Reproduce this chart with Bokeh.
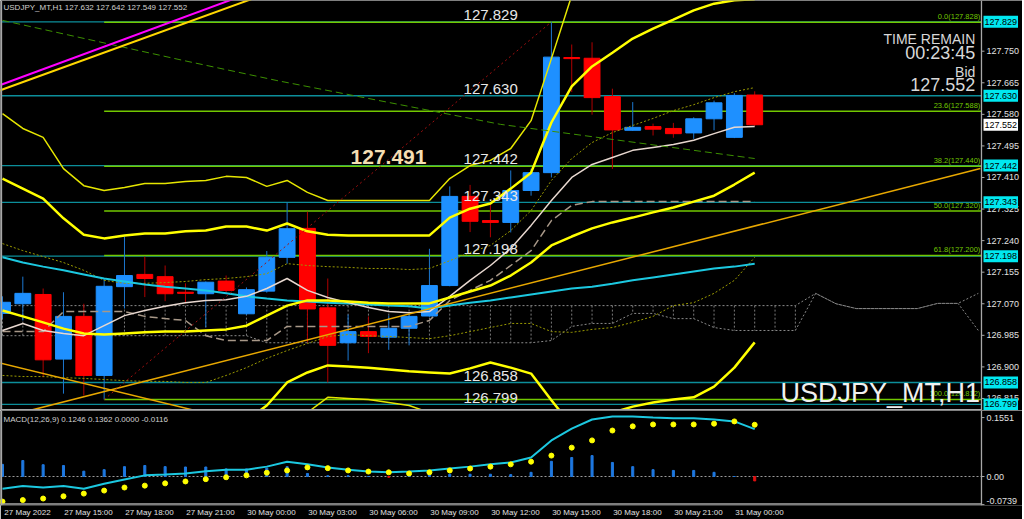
from bokeh.plotting import figure
from bokeh.layouts import column
from bokeh.models import Range1d, FixedTicker, Label
from bokeh.core.properties import value
from bokeh.embed import file_html
from bokeh.resources import INLINE

NaN = float("nan")

# ---------------- data ----------------
time_ticks = [0, 3, 6, 9, 12, 15, 18, 21, 24, 27, 30, 33, 36]
time_labels = ["27 May 2022", "27 May 15:00", "27 May 18:00", "27 May 21:00", "30 May 00:00",
               "30 May 03:00", "30 May 06:00", "30 May 09:00", "30 May 12:00", "30 May 15:00",
               "30 May 18:00", "30 May 21:00", "31 May 00:00"]

opens  = [127.044,127.070,127.095,126.921,127.036,126.877,127.116,127.149,127.143,127.101,127.097,127.131,
          127.043,127.104,127.195,127.273,127.059,126.965,126.995,126.980,127.004,127.037,127.119,127.359,
          127.294,127.289,127.375,127.423,127.733,127.731,127.628,127.537,127.547,127.542,127.530,127.568,
          127.518,127.632]
highs  = [127.090,127.143,127.111,127.101,127.070,127.138,127.251,127.197,127.173,127.125,127.130,127.146,
          127.114,127.212,127.343,127.318,127.138,127.041,127.036,127.038,127.047,127.218,127.386,127.390,
          127.337,127.429,127.434,127.829,127.768,127.774,127.649,127.613,127.555,127.557,127.572,127.617,
          127.637,127.642]
lows   = [127.030,127.025,126.872,126.828,126.823,126.812,127.057,127.088,127.077,127.071,127.007,127.098,
          127.040,127.100,127.178,126.966,126.858,126.917,126.937,126.946,126.958,127.035,127.117,127.263,
          127.249,127.262,127.361,127.410,127.640,127.579,127.433,127.536,127.523,127.517,127.514,127.537,
          127.516,127.549]
closes = [127.074,127.098,126.919,127.036,126.877,127.117,127.146,127.138,127.097,127.098,127.128,127.106,
          127.108,127.195,127.272,127.056,126.958,126.995,126.982,127.004,127.036,127.119,127.359,127.292,
          127.289,127.375,127.423,127.734,127.730,127.625,127.538,127.545,127.540,127.528,127.568,127.611,
          127.631,127.552]

bb2_up = [127.582,127.542,127.518,127.434,127.388,127.375,127.383,127.394,127.394,127.399,127.402,127.413,
          127.410,127.386,127.402,127.370,127.348,127.348,127.348,127.348,127.348,127.348,127.407,127.442,
          127.456,127.488,127.563,127.730,127.900,127.950,127.980,128.000,128.010,128.020,128.020,128.020,
          128.030,128.030]
bb1_up = [127.407,127.380,127.353,127.300,127.256,127.246,127.254,127.259,127.259,127.265,127.267,127.278,
          127.278,127.267,127.286,127.265,127.256,127.254,127.254,127.254,127.254,127.254,127.302,127.326,
          127.340,127.380,127.423,127.558,127.655,127.709,127.746,127.784,127.811,127.835,127.860,127.878,
          127.887,127.890]
bb1_lo = [127.052,127.036,127.020,127.003,126.990,126.987,126.990,126.993,126.995,126.995,126.998,127.001,
          127.011,127.038,127.065,127.079,127.079,127.076,127.073,127.071,127.071,127.071,127.087,127.103,
          127.119,127.146,127.181,127.227,127.251,127.273,127.289,127.302,127.316,127.329,127.345,127.361,
          127.391,127.423]
bb3_lo = [126.620,126.620,126.630,126.630,126.640,126.650,126.660,126.670,126.680,126.690,126.700,126.710,
          126.756,126.796,126.858,126.885,126.904,126.901,126.898,126.893,126.888,126.885,126.882,126.896,
          126.912,126.898,126.882,126.810,126.742,126.750,126.777,126.793,126.804,126.812,126.818,126.847,
          126.898,126.966]
bbx_lo = [NaN]*14 + [126.760,126.777,126.818,126.815,126.812,126.804,126.796,126.777,126.760] + [NaN]*15

ma_cyan = [127.195,127.181,127.170,127.160,127.149,127.138,127.130,127.122,127.116,127.111,127.106,127.098,
           127.090,127.084,127.079,127.076,127.073,127.071,127.068,127.065,127.063,127.057,127.065,127.073,
           127.079,127.087,127.095,127.103,127.111,127.116,127.124,127.133,127.141,127.149,127.157,127.165,
           127.170,127.178]
ma_beige = [126.998,127.017,126.998,126.990,126.984,127.011,127.038,127.052,127.063,127.073,127.079,127.081,
            127.090,127.111,127.138,127.106,127.087,127.073,127.060,127.049,127.046,127.049,127.090,127.133,
            127.173,127.219,127.281,127.348,127.410,127.445,127.464,127.483,127.491,127.499,127.510,127.528,
            127.545,127.547]
olive_up = [127.232,127.213,127.197,127.181,127.160,127.133,127.125,127.125,127.127,127.130,127.135,127.138,
            127.143,127.151,127.178,127.173,127.170,127.168,127.165,127.165,127.162,127.165,127.186,127.208,
            127.227,127.267,127.321,127.402,127.461,127.504,127.531,127.550,127.569,127.590,127.606,127.625,
            127.641,127.652]
olive_lo = [126.877,126.874,126.874,126.871,126.869,126.866,126.863,126.861,126.861,126.858,126.858,126.877,
            126.898,126.923,126.944,126.963,126.982,126.987,126.984,126.982,126.979,126.976,126.984,126.995,
            127.006,127.017,127.017,126.995,126.993,127.001,127.006,127.020,127.036,127.065,127.073,127.098,
            127.133,127.195]
kijun = [126.995,126.995,126.995,127.049,127.049,127.049,127.049,127.036,127.030,127.025,126.984,126.971,
         126.971,126.971,127.009,127.009,127.009,127.009,127.009,127.009,127.009,127.025,127.079,127.106,
         127.133,127.173,127.213,127.294,127.335,127.345,127.345,127.345,127.345,127.345,127.345,127.345,
         127.345,127.345]

cloud_up = [127.065]*40 + [127.098,127.070,127.057,127.057,127.057,127.057,127.071,127.071,127.098]
cloud_lo = ([126.984]*13 + [126.965]*14 +
            [126.971,127.009,127.017,127.017,127.044,127.044,127.030,127.030,127.006,126.998,126.998,126.998,126.998] +
            [127.098,127.070,127.057,127.057,127.057,127.057,127.071,127.071,126.998])

tl_rise_x, tl_rise_y = [1.38, 48.1], [126.783, 127.434]
tl_fall_x, tl_fall_y = [-1.0, 12.0], [126.922, 126.749]
tl_green_x = [0.0, 8.9, 13.5, 24.5, 37.0]
tl_green_y = [127.833, 127.725, 127.671, 127.553, 127.461]
tl_red_x, tl_red_y = [5, 27], [126.812, 127.829]
tl_mag_x, tl_mag_y = [-0.2, 13.8], [127.657, 127.940]
tl_yel_x, tl_yel_y = [-0.2, 14.75], [127.643, 127.940]

hlines = [127.829, 127.630, 127.442, 127.343, 127.198, 126.858, 126.799]
fib_levels = [127.828, 127.588, 127.440, 127.320, 127.200, 126.812]
fib_names = ["0.0", "23.6", "38.2", "50.0", "61.8", "100.0"]
fib_start = 5
price_ticks = [127.750, 127.665, 127.580, 127.495, 127.410, 127.325, 127.240, 127.155,
               127.070, 126.985, 126.900, 126.815]
bid = 127.552

macd_hist = [0.032,0.042,0.031,0.029,0.014,0.018,0.026,0.029,0.026,0.025,0.025,0.020,0.020,0.022,0.026,
             0.008,0.002,0.002,0.000,-0.002,0.005,0.005,0.006,0.006,0.006,0.005,0.011,0.040,0.050,0.055,
             0.037,0.026,0.018,0.016,0.016,0.011,0.000,-0.0116]
macd_main = [-0.032,-0.025,-0.029,-0.025,-0.032,-0.019,-0.008,0.003,0.005,0.008,0.014,0.018,0.018,0.026,
             0.039,0.032,0.024,0.018,0.013,0.011,0.013,0.016,0.021,0.026,0.032,0.037,0.050,0.095,0.126,
             0.150,0.158,0.158,0.155,0.153,0.153,0.150,0.145,0.1246]
macd_signal = [-0.066,-0.062,-0.058,-0.052,-0.045,-0.037,-0.029,-0.024,-0.018,-0.013,-0.007,-0.002,0.003,
               0.010,0.016,0.024,0.022,0.016,0.013,0.011,0.008,0.011,0.016,0.021,0.026,0.032,0.039,0.055,
               0.076,0.095,0.121,0.132,0.137,0.137,0.137,0.139,0.145,0.1362]
macd_ticks = [0.1551, 0.0, -0.0739]
macd_tick_labels = ["0.1551", "0.00", "-0.0739"]

# ---------------- layout constants ----------------
FONT = "Liberation Sans"
FG = "#E0E0E0"
BORDER = "#A8A8A8"
TEAL = "#0C8E9A"
FIBG = "#72C800"
PX = 20.33            # pixels per bar
X0 = -0.098           # left edge of frame (in bars)
FW = 1022             # frame width incl. price-axis strip
X_END = 48.155        # price-axis line
XR_END = X0 + FW / PX
P_LO, P_HI = 126.7826, 127.8865
M_LO, M_HI = -0.0763, 0.1737
xr = Range1d(X0, XR_END)
TICK = 3.0 / PX
LBL_X = X_END + 5.0 / PX


def make_fig(h, ylo, yhi, xaxis):
    f = figure(frame_width=FW, frame_height=h, x_range=xr, y_range=Range1d(ylo, yhi),
               output_backend="svg", toolbar_location=None, x_axis_location=xaxis,
               y_axis_location=None, background_fill_color="black", border_fill_color="black",
               outline_line_color=None, min_border_left=0, min_border_right=0,
               min_border_top=0, min_border_bottom=0)
    f.grid.visible = False
    return f


def lab(plot, x, y, text, size, color=FG, align="left", base="bottom", style="normal",
        font=FONT, **kw):
    plot.add_layout(Label(x=x, y=y, text=text, text_font=font, text_font_size=size,
                          text_color=color, text_align=align, text_baseline=base,
                          text_font_style=style, **kw))


def flag(plot, y, text, bg):
    try:
        lb = Label(x=X_END + 2.0 / PX, y=y, text=text, text_font=FONT, text_font_size="9px",
                   text_color="black", text_baseline="middle", background_fill_color=bg,
                   padding=(1, 3))
    except Exception:
        lb = Label(x=X_END + 2.0 / PX, y=y, text=text, text_font=FONT, text_font_size="9px",
                   text_color="black", text_baseline="middle", background_fill_color=bg,
                   padding=2)
    plot.add_layout(lb)


# ---------------- main chart ----------------
p = make_fig(410, P_LO, P_HI, None)

n = len(opens)
idx = list(range(n))
cidx = list(range(len(cloud_up)))

p.line(cidx, cloud_up, line_color="#8A8A8A", line_dash="2 2", line_width=1)
p.line(cidx, cloud_lo, line_color="#8A8A8A", line_dash="2 2", line_width=1)
vx = [i for i in cidx if i <= 39]
p.segment(x0=vx, y0=[cloud_up[i] for i in vx], x1=vx, y1=[cloud_lo[i] for i in vx],
          line_color="#7A7A7A", line_dash="2 2", line_width=1)

p.segment(x0=[X0] * len(hlines), y0=hlines, x1=[X_END] * len(hlines), y1=hlines,
          line_color=TEAL, line_width=1.3)
p.segment(x0=[fib_start] * len(fib_levels), y0=fib_levels, x1=[X_END] * len(fib_levels), y1=fib_levels,
          line_color=FIBG, line_width=1.5)

bull = [c >= o for o, c in zip(opens, closes)]
body_col = ["#1E90FF" if b else "#FF0000" for b in bull]
wick_col = ["#1C78D0" if b else "#B00000" for b in bull]
p.segment(x0=idx, y0=lows, x1=idx, y1=highs, line_color=wick_col, line_width=1)
p.vbar(x=idx, width=0.78, top=[max(o, c) for o, c in zip(opens, closes)],
       bottom=[min(o, c) for o, c in zip(opens, closes)], fill_color=body_col, line_color=body_col)

p.line(idx, olive_up, line_color="#9A9A00", line_dash="2 2", line_width=1)
p.line(idx, olive_lo, line_color="#9A9A00", line_dash="2 2", line_width=1)
p.line(idx, kijun, line_color="#A89888", line_dash="8 4", line_width=1.5)
p.line(idx, ma_cyan, line_color="#1CC8E0", line_width=2)
p.line(idx, ma_beige, line_color="#E8D8D0", line_width=1.5)
p.line(idx, bb2_up, line_color="#E6E600", line_width=1.5)
p.line(idx, bb1_up, line_color="#FFFF00", line_width=2.5)
p.line(idx, bb1_lo, line_color="#FFFF00", line_width=2.5)
p.line(idx, bb3_lo, line_color="#FFFF00", line_width=2.5)
p.line(idx, bbx_lo, line_color="#E6E600", line_width=1.5)

p.line(tl_rise_x, tl_rise_y, line_color="#E8A800", line_width=1.5)
p.line(tl_fall_x, tl_fall_y, line_color="#E8A800", line_width=1.5)
p.line(tl_green_x, tl_green_y, line_color="#3C9000", line_dash="7 4", line_width=1)
p.line(tl_red_x, tl_red_y, line_color="#A01010", line_dash="2 3", line_width=1)
p.line(tl_mag_x, tl_mag_y, line_color="#FF00FF", line_width=2)
p.line(tl_yel_x, tl_yel_y, line_color="#FFD700", line_width=2)

# frame lines: left edge, price-axis line, bottom separator
p.segment(x0=[X0 + 1.0 / PX, X_END], y0=[P_LO, P_LO], x1=[X0 + 1.0 / PX, X_END], y1=[P_HI, P_HI],
          line_color=BORDER, line_width=1.3)
p.segment(x0=[X0], y0=[P_LO + 0.0013], x1=[X_END], y1=[P_LO + 0.0013], line_color=BORDER, line_width=2)

# price scale
p.segment(x0=[X_END] * len(price_ticks), y0=price_ticks, x1=[X_END + TICK] * len(price_ticks),
          y1=price_ticks, line_color=BORDER, line_width=1)
p.text(x=[LBL_X] * len(price_ticks), y=price_ticks, text=["%.3f" % t for t in price_ticks],
       text_font=value(FONT), text_font_size=value("9px"), text_color=FG, text_baseline="middle")
for h in hlines:
    flag(p, h, "%.3f" % h, "#00E8F0")
flag(p, bid, "%.3f" % bid, "white")

# chart texts
lab(p, 0.05, 127.881, "USDJPY_MT,H1  127.632 127.642 127.549 127.552", "8px", "#D0D0D0", base="top")
for h in hlines:
    lab(p, 22.68, h + 0.005, "%.3f" % h, "15px", "#E8E8E8")
lab(p, 17.12, 127.447, "127.491", "21px", "#F5DEB3", style="bold")
for f, nme in zip(fib_levels, fib_names):
    lab(p, 48.1, f + 0.003, "%s(%.3f)" % (nme, f), "7.5px", FIBG, align="right")
lab(p, 47.85, 127.782, "TIME REMAIN", "14px", "#D8D8D8", align="right", base="middle")
lab(p, 47.85, 127.745, "00:23:45", "18px", "#D8D8D8", align="right", base="middle")
lab(p, 47.85, 127.693, "Bid", "14px", "#D8D8D8", align="right", base="middle")
lab(p, 47.85, 127.659, "127.552", "18px", "#D8D8D8", align="right", base="middle")
lab(p, 48.08, 126.790, "USDJPY_MT,H1", "27px", "#F0F0F0", align="right")

# ---------------- MACD panel ----------------
m = make_fig(95, M_LO, M_HI, "below")
mx = m.xaxis[0]
label_ticks = [t + 1.23 for t in time_ticks]
mx.ticker = FixedTicker(ticks=label_ticks)
mx.major_label_overrides = {t: s for t, s in zip(label_ticks, time_labels)}
mx.axis_line_color = None
mx.major_tick_line_color = None
mx.minor_tick_line_color = None
mx.major_tick_out = 0
mx.major_tick_in = 0
mx.major_label_standoff = 2
mx.major_label_text_color = FG
mx.major_label_text_font = FONT
mx.major_label_text_font_size = "8px"

m.segment(x0=[X0], y0=[0], x1=[X_END], y1=[0], line_color="#9A9A9A", line_dash="2 2", line_width=1)
hcol = ["#1E78E0" if v >= 0 else "#E01010" for v in macd_hist]
m.vbar(x=idx, width=0.1, top=[max(v, 0) for v in macd_hist], bottom=[min(v, 0) for v in macd_hist],
       fill_color=hcol, line_color=hcol)
m.line(idx, macd_main, line_color="#1CC8E0", line_width=2)
m.scatter(idx, macd_signal, size=5, fill_color="#FFFF00", line_color="#FFFF00")
m.segment(x0=[X0 + 1.0 / PX, X_END], y0=[M_LO, M_LO], x1=[X0 + 1.0 / PX, X_END], y1=[M_HI, M_HI],
          line_color=BORDER, line_width=1.3)
m.segment(x0=[X0], y0=[M_LO + 0.004], x1=[X_END], y1=[M_LO + 0.004], line_color=BORDER, line_width=1.5)
m.segment(x0=[X_END] * 3, y0=macd_ticks, x1=[X_END + TICK] * 3, y1=macd_ticks,
          line_color=BORDER, line_width=1)
m.text(x=[LBL_X] * 3, y=macd_ticks, text=macd_tick_labels, text_font=value(FONT),
       text_font_size=value("9px"), text_color=FG, text_baseline="middle", y_offset=[0, 0, -4])
lab(m, 0.05, 0.163, "MACD(12,26,9) 0.1246 0.1362 0.0000 -0.0116", "8px", "#D0D0D0", base="top")

layout = column(p, m, spacing=0)
open("out.html", "w").write(file_html(layout, INLINE))
